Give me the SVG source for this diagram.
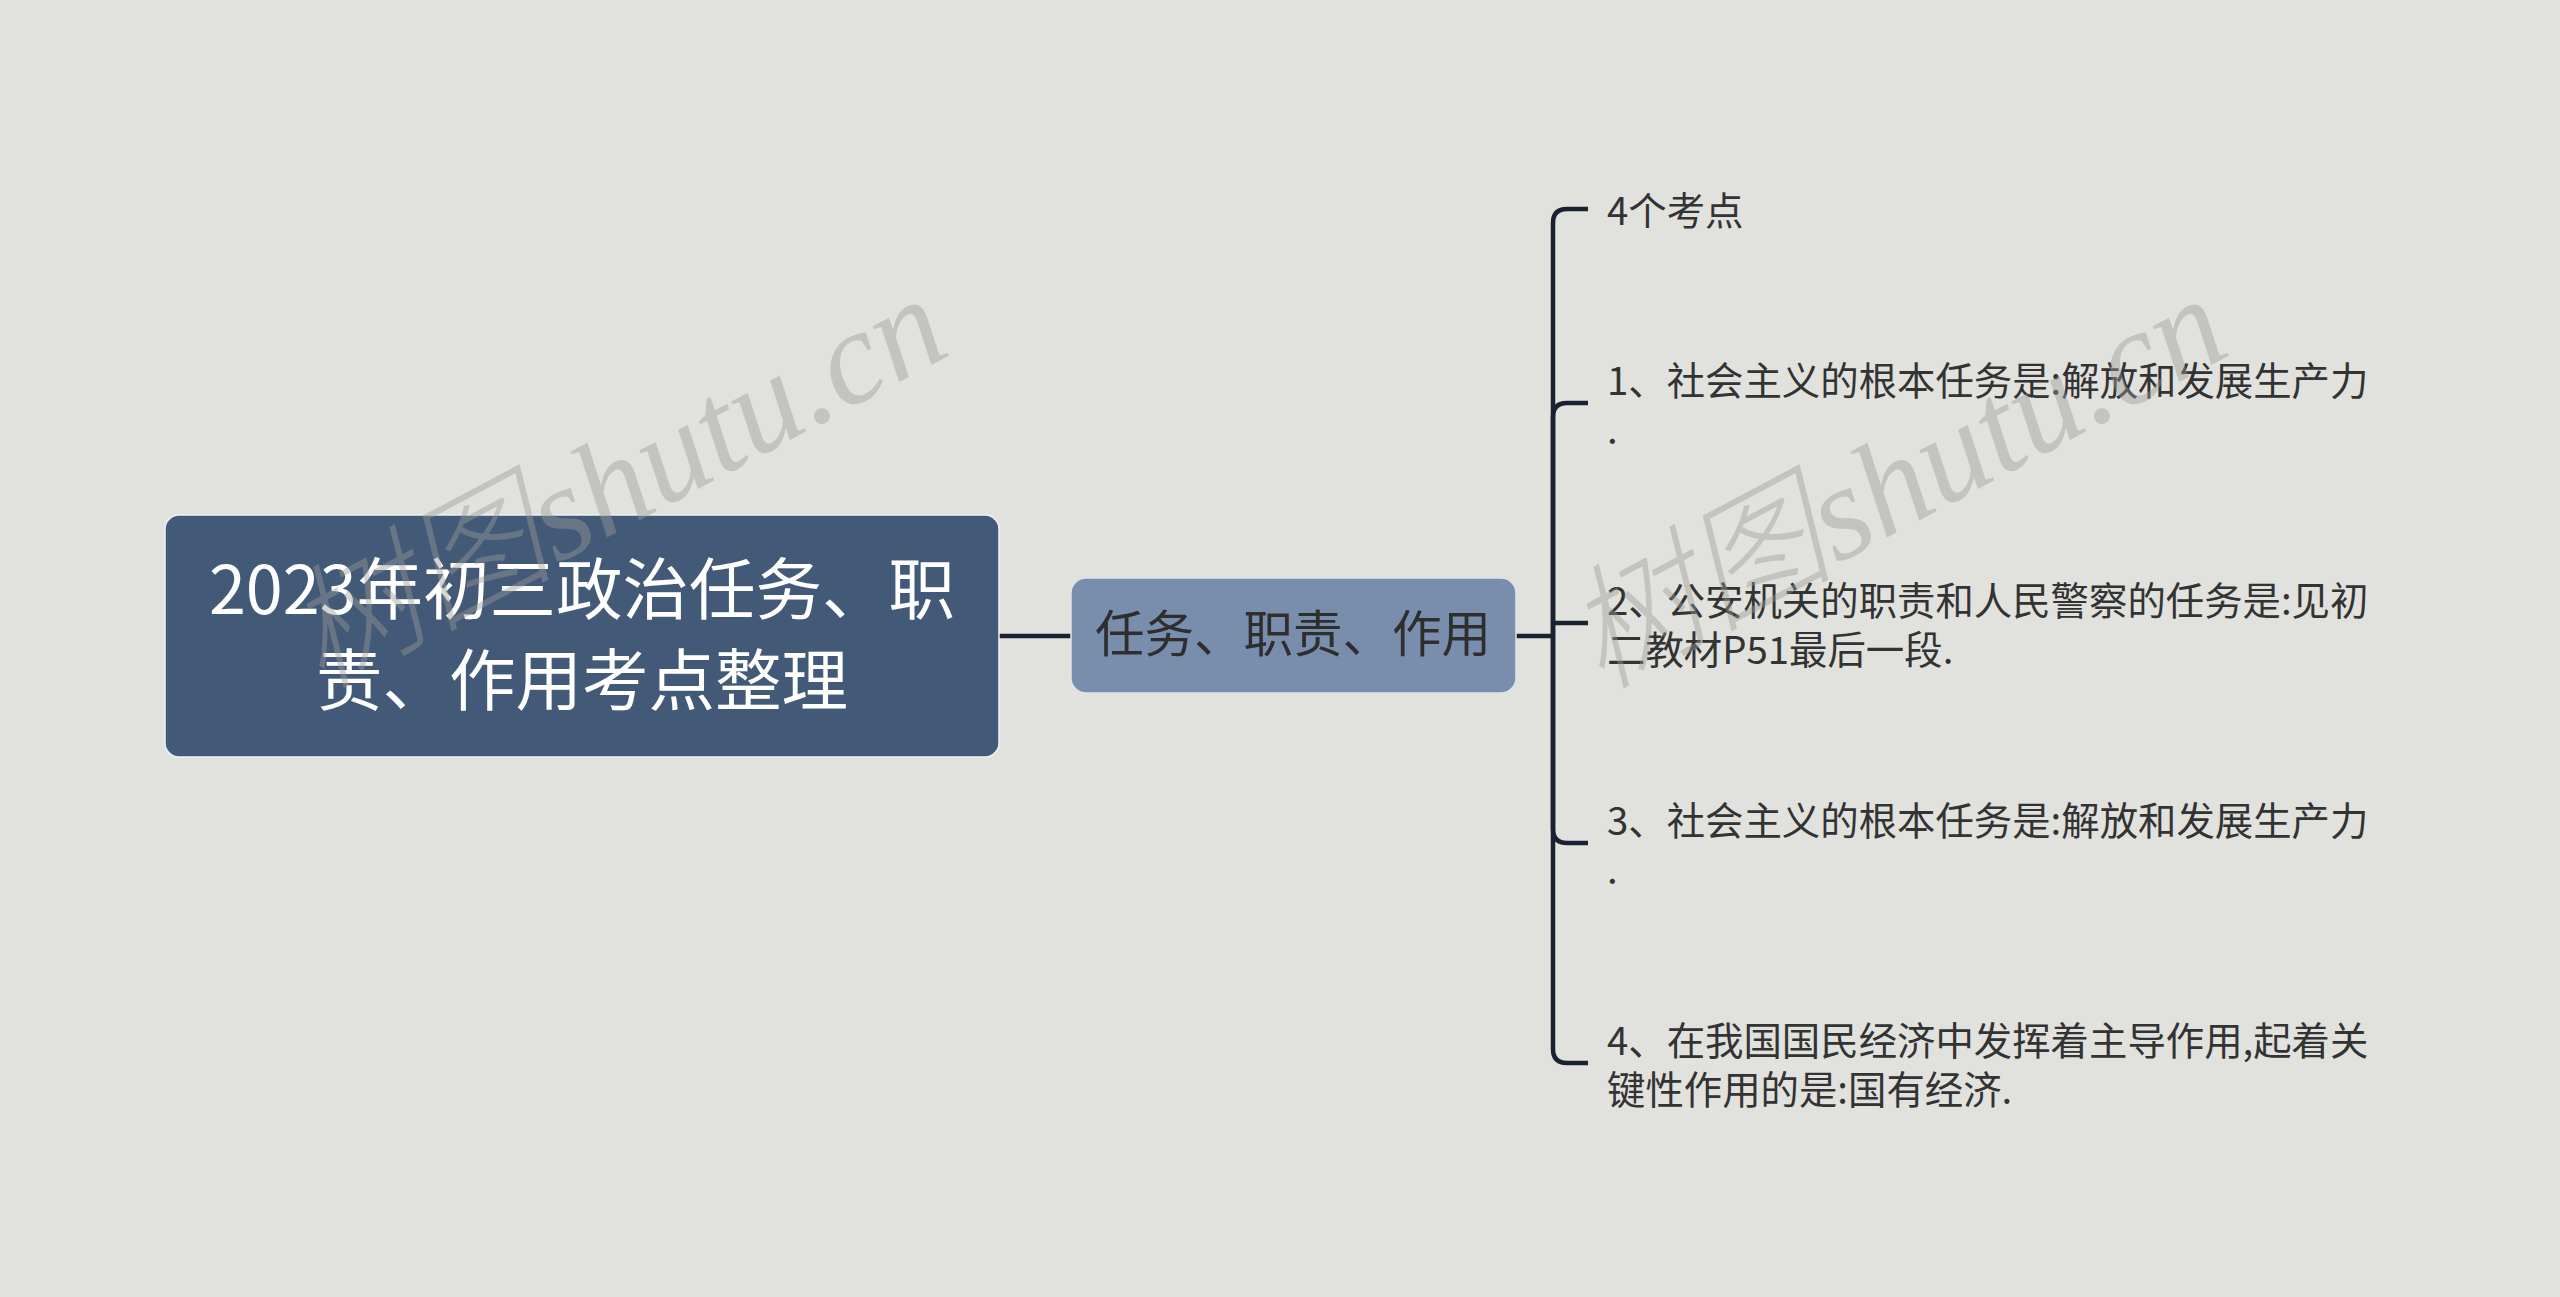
<svg xmlns="http://www.w3.org/2000/svg" width="2560" height="1297" viewBox="0 0 2560 1297">
<style>
.cjk{font-family:"Noto Sans CJK SC","Noto Sans",sans-serif}
.root-box{fill:#425a78;stroke:#eef1f4;stroke-width:1.5}
.mid-box{fill:#798ead;stroke:#dde3ea;stroke-width:1.5}
.root-text{fill:#ffffff;font-size:66.5px}
.mid-text{fill:#2e2e2e;font-size:49.5px}
.leaf-text{fill:#333333;font-size:38.4px}
.conn{fill:none;stroke:#1a2232;stroke-width:4.5;stroke-linecap:butt}
.wm{font-family:"Liberation Serif","Noto Sans CJK SC",serif;font-style:italic;font-weight:300;font-size:134px;fill:#9a9a96;opacity:0.42}
</style>
<rect x="0" y="0" width="2560" height="1297" fill="#e1e2de"/>
<g id="connectors">
<path class="conn" d="M999,636 H1071"/>
<path class="conn" d="M1516,636 H1553"/>
<path class="conn" d="M1553,636 V223 Q1553,209 1567,209 H1588"/>
<path class="conn" d="M1553,636 V417 Q1553,403 1567,403 H1588"/>
<path class="conn" d="M1553,623 H1588"/>
<path class="conn" d="M1553,636 V829 Q1553,843 1567,843 H1588"/>
<path class="conn" d="M1553,636 V1049 Q1553,1063 1567,1063 H1588"/>
</g>
<g id="node-root">
<rect class="root-box" x="165" y="515" width="834" height="242" rx="14" ry="14"/>
<text class="cjk root-text" text-anchor="middle"><tspan x="582" y="614">2023年初三政治任务、职</tspan><tspan x="582" y="705">责、作用考点整理</tspan></text>
</g>
<g id="node-main">
<rect class="mid-box" x="1071" y="578" width="445" height="115" rx="15" ry="15"/>
<text class="cjk mid-text" x="1293" y="652" text-anchor="middle">任务、职责、作用</text>
</g>
<g id="leaf-0">
<text class="cjk leaf-text" x="1607" y="225">4个考点</text>
</g>
<g id="leaf-1">
<text class="cjk leaf-text"><tspan x="1607" y="395">1、社会主义的根本任务是:解放和发展生产力</tspan><tspan x="1607" y="444">.</tspan></text>
</g>
<g id="leaf-2">
<text class="cjk leaf-text"><tspan x="1607" y="615">2、公安机关的职责和人民警察的任务是:见初</tspan><tspan x="1607" y="664">二教材P51最后一段.</tspan></text>
</g>
<g id="leaf-3">
<text class="cjk leaf-text"><tspan x="1607" y="835">3、社会主义的根本任务是:解放和发展生产力</tspan><tspan x="1607" y="884">.</tspan></text>
</g>
<g id="leaf-4">
<text class="cjk leaf-text"><tspan x="1607" y="1055">4、在我国国民经济中发挥着主导作用,起着关</tspan><tspan x="1607" y="1104">键性作用的是:国有经济.</tspan></text>
</g>
<g id="watermarks">
<text class="wm" transform="translate(320,690) rotate(-28)">树图shutu.cn</text>
<text class="wm" transform="translate(1600,690) rotate(-28)">树图shutu.cn</text>
</g>
</svg>
